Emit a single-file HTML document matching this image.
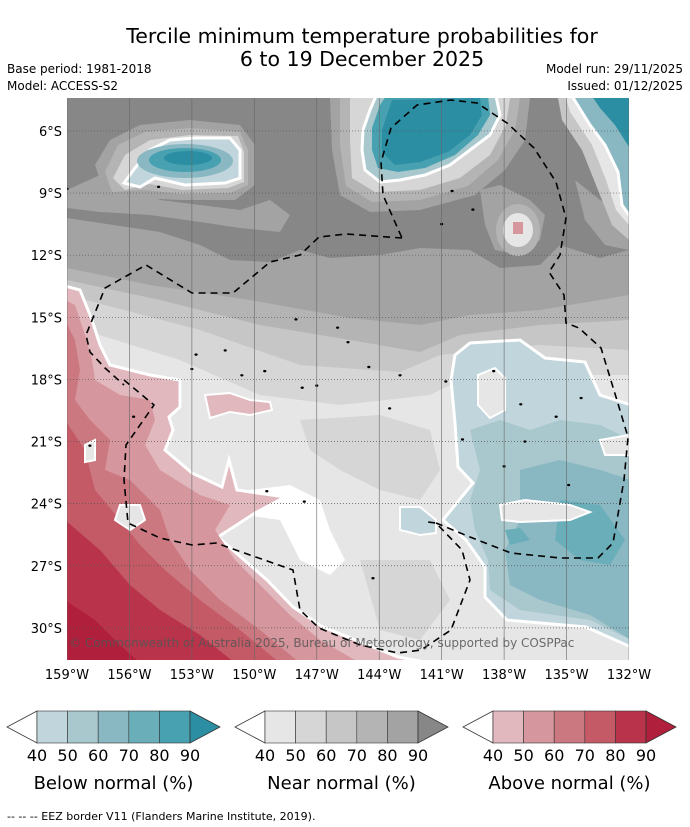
<!DOCTYPE html>
<html><head><meta charset="utf-8"><style>
html,body{margin:0;padding:0;background:#fff;}
svg{display:block;font-family:"DejaVu Sans","Liberation Sans",sans-serif;}
</style></head><body>
<svg id="fig" width="690" height="827" viewBox="0 0 690 827" xmlns="http://www.w3.org/2000/svg">
<rect width="690" height="827" fill="#fff"/>
<text x="362" y="43" font-size="20.5" text-anchor="middle" fill="#000">Tercile minimum temperature probabilities for</text>
<text x="362" y="66" font-size="20.5" text-anchor="middle" fill="#000">6 to 19 December 2025</text>
<text x="7" y="73" font-size="12">Base period: 1981-2018</text>
<text x="7" y="90" font-size="12">Model: ACCESS-S2</text>
<text x="683" y="73" font-size="12" text-anchor="end">Model run: 29/11/2025</text>
<text x="683" y="90" font-size="12" text-anchor="end">Issued: 01/12/2025</text>
<defs><clipPath id="mc"><rect x="67" y="98" width="562" height="562"/></clipPath></defs>
<g id="map" clip-path="url(#mc)">
<rect x="67" y="98" width="562" height="562" fill="#a3a3a3"/>
<polygon fill="#878787" points="67,98 629,98 629,250 600,258 560,245 540,265 500,268 470,250 420,248 380,255 330,258 300,250 270,262 230,260 200,245 160,232 120,226 67,218"/>
<polygon fill="#a3a3a3" points="67,190 100,175 130,185 160,200 200,205 240,210 270,200 290,215 280,232 240,228 200,222 150,215 100,212 67,208"/>
<polygon fill="#a3a3a3" points="480,190 500,185 530,200 545,215 540,240 520,255 495,250 485,225"/>
<polygon fill="#a3a3a3" points="575,180 600,200 629,215 629,250 605,245 585,220"/>
<polygon fill="#b4b4b4" points="67,268 150,285 250,300 350,318 420,325 470,315 540,310 629,295 629,660 67,660"/>
<polygon fill="#c6c6c6" points="67,280 160,300 260,325 350,340 420,352 460,335 540,325 629,320 629,660 67,660"/>
<polygon fill="#d6d6d6" points="67,295 200,330 300,365 400,372 440,355 540,345 629,350 629,660 67,660"/>
<polygon fill="#e6e6e6" points="67,325 180,360 260,395 340,405 430,395 470,375 629,375 629,660 67,660"/>
<polygon fill="#d6d6d6" points="300,420 380,415 430,430 440,470 420,500 380,490 340,470 310,450"/>
<polygon fill="#d6d6d6" points="360,560 430,560 450,600 420,640 380,630"/>
<polygon fill="#ffffff" points="250,490 290,485 320,500 330,530 345,560 330,575 300,560 280,520 245,515"/>
<!-- halos top -->
<polygon fill="#a3a3a3" points="95,165 110,140 140,125 190,120 240,125 255,145 255,185 235,200 180,200 140,198 105,195"/>
<polygon fill="#b4b4b4" points="105,172 118,145 145,132 190,128 240,132 248,150 248,185 230,193 180,194 145,190 112,192"/>
<polygon fill="#d6d6d6" points="113,178 125,155 150,140 190,135 238,136 244,152 244,182 228,188 182,190 150,184 125,190"/>
<polygon fill="#a3a3a3" points="330,98 530,98 525,140 505,170 475,195 420,210 370,212 340,195 332,150"/>
<polygon fill="#b4b4b4" points="340,98 520,98 515,130 498,160 468,186 420,200 372,202 346,186 340,145"/>
<polygon fill="#d6d6d6" points="350,98 510,98 506,125 490,155 460,178 420,190 375,192 352,178 350,140"/>
<polygon fill="#c6c6c6" points="558,98 629,98 629,240 612,225 598,190 582,150 562,120"/>
<polygon fill="#e6e6e6" points="566,98 629,98 629,225 616,210 606,180 592,145 570,112"/>
<ellipse cx="518" cy="230" rx="22" ry="26" fill="#b4b4b4"/>
<ellipse cx="518" cy="230" rx="15" ry="17" fill="#e6e6e6"/>
<rect x="513" y="222" width="10" height="12" fill="#d6969d"/>
<!-- blue blobs top -->
<polygon fill="#c0d5dc" stroke="#fff" stroke-width="3" points="124,183 135,168 150,150 170,140 195,138 230,138 240,150 240,178 225,183 185,185 155,178 140,187"/>
<ellipse cx="185" cy="161" rx="48" ry="17" fill="#89b7c2"/>
<ellipse cx="185" cy="160" rx="36" ry="12" fill="#48a1b1"/>
<ellipse cx="188" cy="158" rx="24" ry="7" fill="#2b8ea3"/>
<polygon fill="#a8c8cd" stroke="#fff" stroke-width="3" points="363,130 370,110 376,96 496,96 500,115 490,135 470,150 450,165 425,175 400,180 380,182 365,170 362,150"/>
<polygon fill="#48a1b1" points="372,128 380,105 386,96 488,96 490,115 478,135 455,155 425,168 398,172 378,168 372,150"/>
<polygon fill="#2b8ea3" points="382,130 392,100 480,98 482,115 470,135 448,152 420,162 395,165 382,152"/>
<polygon fill="#89b7c2" stroke="#fff" stroke-width="3" points="572,96 631,96 631,218 622,205 618,172 605,145 590,125"/>
<polygon fill="#2b8ea3" points="592,96 631,96 631,150 615,125 600,108"/>
<!-- red region -->
<polygon fill="#e0b8bd" stroke="#fff" stroke-width="3" points="65,286 80,290 92,320 100,345 110,365 130,370 150,375 180,380 180,407 169,417 173,430 165,450 192,473 222,487 229,460 237,490 285,497 255,513 218,537 267,580 293,607 323,627 398,657 430,663 65,663"/>
<polygon fill="#d6969d" points="65,300 75,305 85,335 92,360 95,380 120,395 150,400 155,420 145,445 160,470 200,495 230,505 215,530 235,560 265,590 290,615 320,640 360,663 65,663"/>
<polygon fill="#cc7880" points="65,320 75,340 80,370 75,400 90,420 110,440 105,470 130,480 160,510 170,540 190,570 220,600 260,630 300,663 65,663"/>
<polygon fill="#c45a66" points="65,420 85,450 95,490 120,520 140,545 165,570 200,600 240,630 280,663 65,663"/>
<polygon fill="#b9344a" points="65,520 100,550 130,585 160,610 200,635 235,663 65,663"/>
<polygon fill="#b01f3b" points="65,600 95,620 120,645 140,663 65,663"/>
<polygon fill="#e6e6e6" stroke="#fff" stroke-width="2" points="120,505 140,505 145,520 130,530 115,520"/>
<polygon fill="#e6e6e6" stroke="#fff" stroke-width="2" points="85,445 95,440 95,460 85,462"/>
<polygon fill="#e0b8bd" stroke="#fff" stroke-width="2" points="205,395 230,393 250,400 270,402 272,410 250,415 230,412 210,418"/>
<!-- blue region -->
<polygon fill="#c0d5dc" stroke="#fff" stroke-width="3" points="451,380 455,355 470,343 520,340 545,358 585,362 600,395 631,405 631,647 586,627 507,620 485,597 485,567 466,540 443,520 473,483 458,467 455,423"/>
<polygon fill="#a8c8cd" points="470,430 500,420 530,430 560,420 600,425 631,440 631,640 590,620 520,610 490,590 488,560 475,530 470,500 480,470"/>
<polygon fill="#89b7c2" points="520,470 560,460 600,470 631,480 631,640 590,615 540,600 510,585 505,550 520,520"/>
<polygon fill="#6aaeb9" points="560,500 600,505 625,540 610,565 580,560 555,540"/>
<polygon fill="#6aaeb9" points="505,530 520,528 530,540 510,545"/>
<polygon fill="#e6e6e6" stroke="#fff" stroke-width="2" points="478,375 495,368 505,378 505,410 490,418 478,405"/>
<polygon fill="#e6e6e6" stroke="#fff" stroke-width="2" points="500,505 525,500 570,505 590,512 570,520 520,522 502,520"/>
<polygon fill="#e6e6e6" stroke="#fff" stroke-width="2" points="600,440 629,435 629,455 605,455"/>
<polygon fill="#c0d5dc" stroke="#fff" stroke-width="2" points="400,507 420,507 436,520 436,533 420,535 400,530"/>
<g id="land" fill="#000"></g>
<g id="grid"></g>
<path fill="none" stroke="#000" stroke-width="1.6" stroke-dasharray="7,5" d="M124,380 L154,405 L126,445 L124,480 L128,523 L160,538 L192,545 L216,543 L250,555 L293,570 L300,610 L319,628 L360,645 L398,653 L421,650 L451,630 L470,580 L462,550 L436,523 L428,522 M436,523 L470,537 L511,553 L560,558 L598,558 L613,543 L624,480 L628,437 L616,397 L601,348 L579,328 L566,323 L564,295 L549,272 L560,255 L566,218 L556,182 L534,148 L507,123 L477,103 L451,100 L417,105 L391,128 L381,162 L383,195 L402,238 M402,238 L346,234 L319,237 L300,255 L270,262 L233,293 L192,293 L146,265 L105,288 L86,335 L90,352 L105,368 L124,385"/>
<text x="69" y="647" font-size="12" fill="#555" fill-opacity="0.85">© Commonwealth of Australia 2025, Bureau of Meteorology, supported by COSPPac</text>
</g>
<g id="axes"></g>
<g id="cbars"></g>
<text x="7" y="820" font-size="11">--  --  -- EEZ border V11 (Flanders Marine Institute, 2019).</text>
</svg>
<script>
const lonTicks = [-159,-156,-153,-150,-147,-144,-141,-138,-135,-132];
const latTicks = [-6,-9,-12,-15,-18,-21,-24,-27,-30];
const cbTicks = [40,50,60,70,80,90];
const belowColors = ["#c0d5dc","#a8c8cd","#89b7c2","#6aaeb9","#48a1b1","#2b8ea3"];
const nearColors = ["#e6e6e6","#d6d6d6","#c6c6c6","#b4b4b5","#a3a3a3","#878787"];
const aboveColors = ["#e0b8bd","#d6969d","#cc7880","#c45a66","#b9344a","#b01f3b"];
const cbTitles = ["Below normal (%)","Near normal (%)","Above normal (%)"];
const islands = [[-154.6,-8.7],[-159.0,-8.8],[-141.0,-10.5],[-140.5,-8.9],[-139.5,-9.8],[-148.0,-15.1],[-146.0,-15.5],[-145.5,-16.2],[-149.5,-17.6],[-151.4,-16.6],[-144.5,-17.4],[-143,-17.8],[-140.8,-18.1],[-147.7,-18.4],[-143.5,-19.4],[-138.5,-17.6],[-137.2,-19.2],[-137.0,-21.0],[-138,-22.2],[-134.9,-23.1],[-149.4,-23.4],[-147.6,-23.9],[-144.3,-27.6],[-140,-20.9],[-157.9,-21.2],[-155.8,-19.8],[-152.8,-16.8],[-153,-17.5],[-150.6,-17.8],[-147,-18.3],[-135.5,-19.8],[-134.3,-18.9],[-131.9,-24.7],[-130,-25]];
const X0=67,Y0=98,W=562,H=562,LON0=-159,LON1=-132,LAT0=-4.41,LAT1=-31.55;
function xOf(lon){return X0+(lon-LON0)/(LON1-LON0)*W;}
function yOf(lat){return Y0+(lat-LAT0)/(LAT1-LAT0)*H;}
const NS="http://www.w3.org/2000/svg";
function mk(tag,attrs,parent){const e=document.createElementNS(NS,tag);for(const k in attrs)e.setAttribute(k,attrs[k]);parent.appendChild(e);return e;}
const land=document.getElementById('land');
islands.forEach(p=>{const e=mk('ellipse',{cx:xOf(p[0]),cy:yOf(p[1]),rx:1.6,ry:1.2},land);

});
const grid=document.getElementById('grid'),axes=document.getElementById('axes');
lonTicks.forEach(l=>{const x=xOf(l);
const ln=mk('line',{x1:x,x2:x,y1:Y0,y2:Y0+H,stroke:'#666','stroke-width':0.6},grid);


const t=mk('text',{x:x,y:679,'font-size':13,'text-anchor':'middle'},axes);t.textContent=Math.abs(l)+'°W';

});
latTicks.forEach(l=>{const y=yOf(l);
const ln=mk('line',{x1:X0,x2:X0+W,y1:y,y2:y,stroke:'#555','stroke-width':0.7,'stroke-dasharray':'1,2'},grid);


const t=mk('text',{x:62,y:y+5,'font-size':13,'text-anchor':'end'},axes);t.textContent=Math.abs(l)+'°S';

});
const cb=document.getElementById('cbars');
[belowColors,nearColors,aboveColors].forEach((cols,i)=>{
 const bx=37+i*228,by=711,bw=153,bh=32,sw=bw/5;
 const g=mk('g',{},cb);
 
 
 mk('polygon',{points:`${bx},${by} ${bx-30},${by+bh/2} ${bx},${by+bh}`,fill:'#fff',stroke:'#333','stroke-width':0.8},g);
 for(let k=0;k<5;k++){mk('rect',{x:bx+k*sw,y:by,width:sw,height:bh,fill:cols[k],stroke:'#333','stroke-width':0.6},g);}
 mk('polygon',{points:`${bx+bw},${by} ${bx+bw+30},${by+bh/2} ${bx+bw},${by+bh}`,fill:cols[5],stroke:'#333','stroke-width':0.8},g);
 cbTicks.forEach((v,k)=>{const t=mk('text',{x:bx+k*sw,y:761,'font-size':16,'text-anchor':'middle'},g);t.textContent=v;
 
 });
 const tt=mk('text',{x:bx+bw/2,y:789,'font-size':18,'text-anchor':'middle'},g);tt.textContent=cbTitles[i];
 
 
});
</script>
</body></html>
